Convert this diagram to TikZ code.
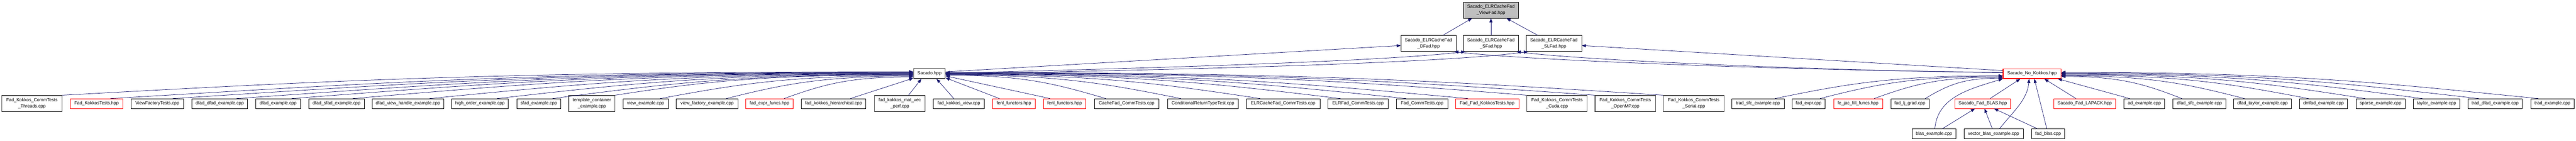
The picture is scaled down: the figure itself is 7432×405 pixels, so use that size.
\documentclass[tikz,border=0pt]{standalone}
\usepackage{fontspec}
\setmainfont{Liberation Sans}
\usetikzlibrary{arrows.meta,calc}
\definecolor{edgeblue}{HTML}{191970}
\definecolor{truncgray}{HTML}{505050}
\definecolor{vfgray}{HTML}{BFBFBF}
\newcommand\dcurve[3]{%
  \path ($(#1.north west)!#2!(#1.north east)$) coordinate (tS) (#3) coordinate (tE);
  \draw[dep] (tS) .. controls ($(tS)!0.3!(tE|-tS)+(0,-40)$) and ($(tE)!0.5!(tS|-tE)$) .. (tE);}
\newcommand\dline[3]{%
  \draw[dep] ($(#1.north west)!#2!(#1.north east)$) -- (#3);}
\begin{document}
\begin{tikzpicture}[x=1pt,y=-1pt,
  nd/.style={draw=black, line width=1pt, fill=white, inner sep=0pt, align=center,
    font=\fontsize{13}{17.5}\selectfont, minimum height=28pt},
  nd2/.style={nd, draw=truncgray, line width=2pt, minimum height=46pt},
  ndr/.style={nd, draw=red},
  dep/.style={draw=edgeblue, line width=1.1pt, -{Triangle[length=12pt,width=9pt]}}]
\fill[white] (0,0) rectangle (7432,405);
\useasboundingbox (0,0) rectangle (7432,405);
% top
\node[nd, fill=vfgray, minimum height=46pt, minimum width=159pt] (vf) at (4301.5,29) {Sacado\_ELRCacheFad\\\_ViewFad.hpp};
\node[nd, minimum height=46pt, minimum width=159pt] (dfad) at (4121.5,125) {Sacado\_ELRCacheFad\\\_DFad.hpp};
\node[nd, minimum height=46pt, minimum width=159pt] (sfad) at (4301.5,125) {Sacado\_ELRCacheFad\\\_SFad.hpp};
\node[nd, minimum height=46pt, minimum width=160pt] (slfad) at (4483,125) {Sacado\_ELRCacheFad\\\_SLFad.hpp};
% hubs
\node[nd, draw=truncgray, line width=2pt, minimum height=29pt, minimum width=91pt] (sac) at (2681.5,211.5) {Sacado.hpp};
\node[nd, draw=red, line width=1.8pt, minimum width=167pt] (nok) at (5862.5,212) {Sacado\_No\_Kokkos.hpp};
% bottom row, left group
\node[nd2, minimum width=174pt] (n1) at (92,298) {Fad\_Kokkos\_CommTests\\\_Threads.cpp};
\node[ndr, minimum width=153pt] (n2) at (278.5,298) {Fad\_KokkosTests.hpp};
\node[nd, minimum width=152pt] (n3) at (454,298) {ViewFactoryTests.cpp};
\node[nd, minimum width=160pt] (n4) at (634,298) {dfad\_dfad\_example.cpp};
\node[nd, minimum width=129pt] (n5) at (802.5,298) {dfad\_example.cpp};
\node[nd, minimum width=160pt] (n6) at (971,298) {dfad\_sfad\_example.cpp};
\node[nd, minimum width=206pt] (n7) at (1177,298) {dfad\_view\_handle\_example.cpp};
\node[nd, minimum width=163pt] (n8) at (1384.5,298) {high\_order\_example.cpp};
\node[nd, minimum width=127pt] (n9) at (1554.5,298) {sfad\_example.cpp};
\node[nd2, minimum width=133pt] (n10) at (1707.5,298) {template\_container\\\_example.cpp};
\node[nd, minimum width=131pt] (n11) at (1862.5,298) {view\_example.cpp};
\node[nd, minimum width=178pt] (n12) at (2040,298) {view\_factory\_example.cpp};
\node[ndr, minimum width=136pt] (n13) at (2220,298) {fad\_expr\_funcs.hpp};
\node[nd, minimum width=186pt] (n14) at (2405,298) {fad\_kokkos\_hierarchical.cpp};
\node[nd2, minimum width=146pt] (n15) at (2596,298) {fad\_kokkos\_mat\_vec\\\_perf.cpp};
\node[nd, minimum width=147pt] (n16) at (2766.5,298) {fad\_kokkos\_view.cpp};
\node[ndr, minimum width=122pt] (n17) at (2925,298) {fenl\_functors.hpp};
\node[ndr, minimum width=123pt] (n18) at (3071.5,298) {fenl\_functors.hpp};
\node[nd, minimum width=187pt] (n19) at (3250.5,298) {CacheFad\_CommTests.cpp};
\node[nd, minimum width=205pt] (n20) at (3470.5,298) {ConditionalReturnTypeTest.cpp};
\node[nd, minimum width=212pt] (n21) at (3702,298) {ELRCacheFad\_CommTests.cpp};
\node[nd, minimum width=174pt] (n22) at (3918,298) {ELRFad\_CommTests.cpp};
\node[nd, minimum width=148pt] (n23) at (4103,298) {Fad\_CommTests.cpp};
\node[ndr, minimum width=183pt] (n24) at (4290.5,298) {Fad\_Fad\_KokkosTests.hpp};
\node[nd2, minimum width=174pt] (n25) at (4492,298) {Fad\_Kokkos\_CommTests\\\_Cuda.cpp};
\node[nd2, minimum width=174pt] (n26) at (4689,298) {Fad\_Kokkos\_CommTests\\\_OpenMP.cpp};
\node[nd2, minimum width=175pt] (n27) at (4886.5,298) {Fad\_Kokkos\_CommTests\\\_Serial.cpp};
% bottom row, right group
\node[nd, minimum width=152pt] (n28) at (5072,298) {trad\_sfc\_example.cpp};
\node[nd, minimum width=96pt] (n29) at (5218,298) {fad\_expr.cpp};
\node[ndr, minimum width=141pt] (n30) at (5360.5,298) {fe\_jac\_fill\_funcs.hpp};
\node[nd, minimum width=110pt] (n31) at (5510,298) {fad\_lj\_grad.cpp};
\node[ndr, minimum width=161pt] (blas) at (5720.5,298) {Sacado\_Fad\_BLAS.hpp};
\node[ndr, minimum width=179pt] (lapack) at (6014.5,298) {Sacado\_Fad\_LAPACK.hpp};
\node[nd, minimum width=117pt] (n34) at (6186.5,298) {ad\_example.cpp};
\node[nd, minimum width=153pt] (n35) at (6345.5,298) {dfad\_sfc\_example.cpp};
\node[nd, minimum width=167pt] (n36) at (6527.5,298) {dfad\_taylor\_example.cpp};
\node[nd, minimum width=139pt] (n37) at (6703.5,298) {dmfad\_example.cpp};
\node[nd, minimum width=142pt] (n38) at (6868,298) {sparse\_example.cpp};
\node[nd, minimum width=135pt] (n39) at (7029.5,298) {taylor\_example.cpp};
\node[nd, minimum width=157pt] (n40) at (7198.5,298) {trad\_dfad\_example.cpp};
\node[nd, minimum width=126pt] (n41) at (7364,298) {trad\_example.cpp};
% third row
\node[nd, minimum width=127pt] (n42) at (5579.5,385) {blas\_example.cpp};
\node[nd, minimum width=171pt] (n43) at (5751.5,385) {vector\_blas\_example.cpp};
\node[nd, minimum width=96pt] (n44) at (5909,385) {fad\_blas.cpp};
% edges to the root
\draw[dep] ($(dfad.north west)!0.76!(dfad.north east)$) -- ($(vf.south west)!0.16!(vf.south east)$);
\draw[dep] (sfad.north) -- (vf.south);
\draw[dep] ($(slfad.north west)!0.21!(slfad.north east)$) -- ($(vf.south west)!0.78!(vf.south east)$);
% hubs to the middle row
\draw[dep] ($(sac.north east)!0.35!(sac.south east)$) -- ($(dfad.west)+(0,6)$);
\draw[dep] ($(sac.east)+(0,-1)$) .. controls +(500,-12) and +(-250,30) .. ($(sfad.south west)+(6,0)$);
\draw[dep] ($(sac.east)+(0,1)$) .. controls +(600,-10) and +(-250,35) .. ($(slfad.south west)+(6,0)$);
\draw[dep] ($(nok.west)+(0,-4)$) .. controls +(-600,-5) and +(200,25) .. ($(dfad.south east)+(-6,0)$);
\draw[dep] ($(nok.west)+(0,-3)$) .. controls +(-500,-5) and +(180,25) .. ($(sfad.south east)+(-6,0)$);
\draw[dep] ($(nok.north west)!0.2!(nok.south west)$) -- ($(slfad.east)+(0,6)$);
% left group to Sacado.hpp
\dcurve{n1}{1}{$(sac.west)+(0,-5)$}
\dcurve{n2}{0.76}{$(sac.west)+(0,-4)$}
\dcurve{n3}{0.79}{$(sac.west)+(0,-3)$}
\dcurve{n4}{0.8}{$(sac.west)+(0,-2)$}
\dcurve{n5}{0.8}{$(sac.west)+(0,-1)$}
\dcurve{n6}{0.79}{$(sac.west)+(0,0)$}
\dcurve{n7}{0.8}{$(sac.west)+(0,1)$}
\dcurve{n8}{0.8}{$(sac.west)+(0,2)$}
\dcurve{n9}{0.81}{$(sac.west)+(0,3)$}
\dcurve{n10}{1}{$(sac.west)+(0,4)$}
\dcurve{n11}{0.82}{$(sac.west)+(0,6)$}
\dcurve{n12}{0.81}{$(sac.west)+(0,8)$}
\dcurve{n13}{0.81}{$(sac.west)+(0,10)$}
\dline{n14}{0.76}{$(sac.south west)+(0,-2)$}
\dline{n15}{0.67}{$(sac.south west)!0.25!(sac.south east)$}
\dline{n16}{0.4}{$(sac.south west)!0.72!(sac.south east)$}
\dline{n17}{0.16}{$(sac.south east)+(0,-3)$}
\dline{n18}{0.16}{$(sac.east)+(0,7)$}
\dcurve{n19}{0.18}{$(sac.east)+(0,5)$}
\dcurve{n20}{0.19}{$(sac.east)+(0,4)$}
\dcurve{n21}{0.19}{$(sac.east)+(0,3)$}
\dcurve{n22}{0.21}{$(sac.east)+(0,2)$}
\dcurve{n23}{0.19}{$(sac.east)+(0,1)$}
\dcurve{n24}{0.2}{$(sac.east)+(0,0)$}
\dcurve{n25}{0}{$(sac.east)+(0,-1)$}
\dcurve{n26}{0}{$(sac.east)+(0,-2)$}
\dcurve{n27}{0}{$(sac.east)+(0,-3)$}
% right group to Sacado_No_Kokkos.hpp
\dcurve{n28}{0.82}{$(nok.west)+(0,6)$}
\dcurve{n29}{0.84}{$(nok.west)+(0,8)$}
\dcurve{n30}{0.83}{$(nok.west)+(0,10)$}
\dcurve{n31}{0.9}{$(nok.south west)+(0,-2)$}
\dline{blas}{0.63}{$(nok.south west)!0.3!(nok.south east)$}
\dline{lapack}{0.36}{$(nok.south west)!0.71!(nok.south east)$}
\dline{n34}{0.14}{$(nok.south east)+(-10,0)$}
\dcurve{n35}{0.17}{$(nok.east)+(0,8)$}
\dcurve{n36}{0.19}{$(nok.east)+(0,6)$}
\dcurve{n37}{0.19}{$(nok.east)+(0,4)$}
\dcurve{n38}{0.19}{$(nok.east)+(0,2)$}
\dcurve{n39}{0.2}{$(nok.east)+(0,0)$}
\dcurve{n40}{0.2}{$(nok.east)+(0,-2)$}
\dcurve{n41}{0.18}{$(nok.east)+(0,-4)$}
% third row
\draw[dep] ($(n42.north west)!0.52!(n42.north east)$) .. controls +(8,-90) and +(-100,30) .. (nok.south west);
\draw[dep] ($(n43.north west)!0.6!(n43.north east)$) .. controls +(40,-50) and +(-5,60) .. ($(nok.south west)!0.45!(nok.south east)$);
\dline{n44}{0.46}{$(nok.south west)!0.54!(nok.south east)$}
\dline{n42}{0.69}{$(blas.south west)!0.36!(blas.south east)$}
\dline{n43}{0.48}{$(blas.south west)!0.53!(blas.south east)$}
\dline{n44}{0.18}{$(blas.south west)!0.7!(blas.south east)$}
\end{tikzpicture}
\end{document}
